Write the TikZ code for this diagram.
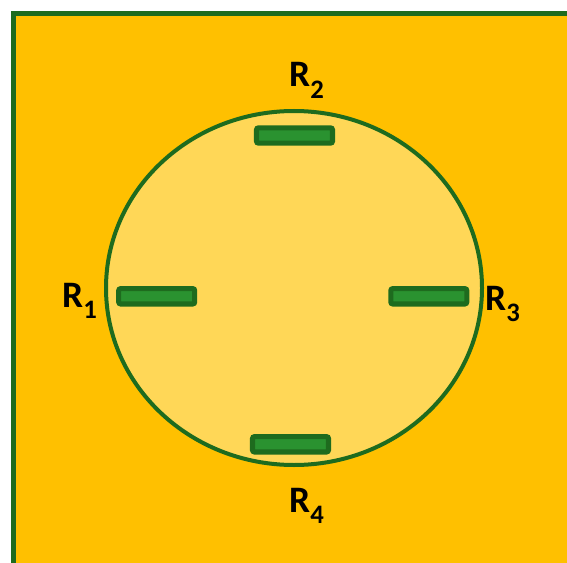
\documentclass[tikz,border=0pt]{standalone}
\usepackage{fontspec}
\setmainfont{Carlito}
\definecolor{bgorange}{HTML}{FFC000}
\definecolor{lightfill}{HTML}{FFD757}
\definecolor{darkgreen}{HTML}{1E6B1E}
\definecolor{barfill}{HTML}{2A9230}
\tikzset{
  bar/.style={draw=darkgreen, fill=barfill, line width=3.8pt, rounded corners=1.5pt, minimum width=57pt, minimum height=11.5pt, inner sep=0pt},
  lbl/.style={font=\fontsize{28}{28}\selectfont\bfseries, inner sep=0pt, anchor=base west}
}
\newcommand{\Rsub}[1]{R\raisebox{-8.3pt}{\fontsize{20}{20}\selectfont\bfseries #1}}
\begin{document}
\begin{tikzpicture}[x=0.75pt,y=-0.75pt]
\useasboundingbox (0,0) rectangle (567,563);
\fill[white] (0,0) rectangle (567,563);
\begin{scope}
\clip (0,0) rectangle (567,563);
\draw[draw=darkgreen, fill=bgorange, line width=3.8pt] (13.5,13.5) rectangle (600,600);
\end{scope}
\draw[draw=darkgreen, fill=lightfill, line width=3pt] (294,288) ellipse [x radius=188, y radius=177];
\node[bar] (b2) at (294.5,135.5) {};
\node[bar] (b1) at (156.7,296.3) {};
\node[bar] (b3) at (428.8,296.3) {};
\node[bar] (b4) at (290.5,444.3) {};
\node[lbl] (r2) at (289,87) {\Rsub{2}};
\node[lbl] (r1) at (62,307) {\Rsub{1}};
\node[lbl] (r3) at (485,310) {\Rsub{3}};
\node[lbl] (r4) at (289,512) {\Rsub{4}};
\end{tikzpicture}
\end{document}
